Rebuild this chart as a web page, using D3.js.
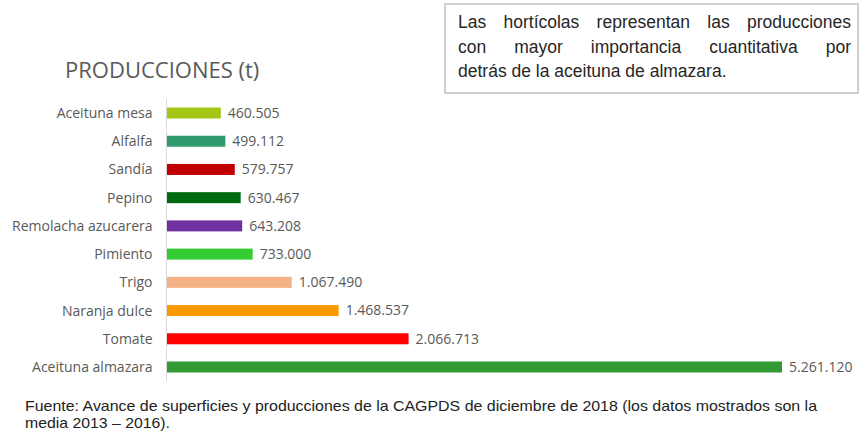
<!DOCTYPE html>
<html>
<head>
<meta charset="utf-8">
<script src="https://cdn.jsdelivr.net/npm/d3@7"></script>
<style>
  body { margin: 0; background: #fff; }
  #wrap { position: relative; width: 860px; height: 433px; overflow: hidden; }
  svg { position: absolute; left: 0; top: 0; }
  .note { position: absolute; left: 444px; top: 3px; width: 393px; height: 76px; padding: 5px 6px 6px 12px;
          border: 2px solid #d0d0d0; font-family: "Liberation Sans", Arial, sans-serif; font-size: 17.5px;
          line-height: 24.5px; color: #262626; }
  .note div { text-align: justify; text-align-last: justify; }
  .note div.last { text-align-last: left; }
</style>
</head>
<body>
<div id="wrap">
  <svg width="860" height="433"></svg>
  <div class="note">
    <div>Las hortícolas representan las producciones</div>
    <div>con mayor importancia cuantitativa por</div>
    <div class="last">detrás de la aceituna de almazara.</div>
  </div>
</div>
<script>
// categories, top to bottom
var cultivos = ["Aceituna mesa", "Alfalfa", "Sandía", "Pepino", "Remolacha azucarera",
  "Pimiento", "Trigo", "Naranja dulce", "Tomate", "Aceituna almazara"];
// production in tonnes (mean 2013-2016)
var produccion = [460505, 499112, 579757, 630467, 643208, 733000, 1067490, 1468537, 2066713, 5261120];
var colores = ["#a3c617", "#2f9a6c", "#c00000", "#006a10", "#7030a0",
  "#33cc33", "#f4b183", "#ff9900", "#ff0000", "#339933"];

var svg = d3.select("svg");
var fmt = d3.formatLocale({ decimal: ",", thousands: ".", grouping: [3], currency: ["", ""] }).format(",d");
var font = "'Open Sans', Lato, sans-serif";

var left = 167;
var xScale = d3.scaleLinear().domain([0, 5261120]).range([left, 782]);
var yScale = d3.scalePoint().domain(cultivos).range([113, 367]);
var barH = 11;

var data = cultivos.map((c, i) => ({ name: c, value: produccion[i], color: colores[i] }));

// title
svg.append("text")
  .attr("x", 65)
  .attr("y", 78)
  .text("PRODUCCIONES (t)")
  .style("fill", "#595959")
  .style("font-size", "22px")
  .style("font-family", font);

// bars
svg.selectAll("rect.bar")
  .data(data)
  .enter()
  .append("rect")
  .attr("class", "bar")
  .attr("x", xScale(0))
  .attr("y", (d) => yScale(d.name) - barH / 2)
  .attr("width", (d) => xScale(d.value) - xScale(0))
  .attr("height", barH)
  .style("fill", (d) => d.color);

// category axis
var yAxis = d3.axisLeft().scale(yScale).tickSize(0).tickPadding(14);
var gy = svg.append("g")
  .attr("transform", `translate(${left - 0.5},0)`)
  .call(yAxis);
gy.select(".domain").attr("d", "M0,99V381").attr("stroke", "#d9d9d9");
gy.selectAll("text")
  .style("fill", "#595959")
  .style("font-size", "14px")
  .style("font-family", font);

// value labels
svg.selectAll("text.val")
  .data(data)
  .enter()
  .append("text")
  .attr("class", "val")
  .attr("x", (d) => xScale(d.value) + 7)
  .attr("y", (d) => yScale(d.name))
  .attr("dy", "0.35em")
  .text((d) => fmt(d.value))
  .style("fill", "#595959")
  .style("font-size", "14px")
  .style("font-family", font);

// source
var src = svg.append("text")
  .style("fill", "#222")
  .style("font-size", "14.5px")
  .style("font-family", "'Liberation Sans', Arial, sans-serif");
src.append("tspan").attr("x", 25).attr("y", 411)
  .attr("textLength", 792).attr("lengthAdjust", "spacingAndGlyphs")
  .text("Fuente: Avance de superficies y producciones de la CAGPDS de diciembre de 2018 (los datos mostrados son la");
src.append("tspan").attr("x", 25).attr("y", 428)
  .attr("textLength", 145).attr("lengthAdjust", "spacingAndGlyphs")
  .text("media 2013 – 2016).");
</script>
</body>
</html>
